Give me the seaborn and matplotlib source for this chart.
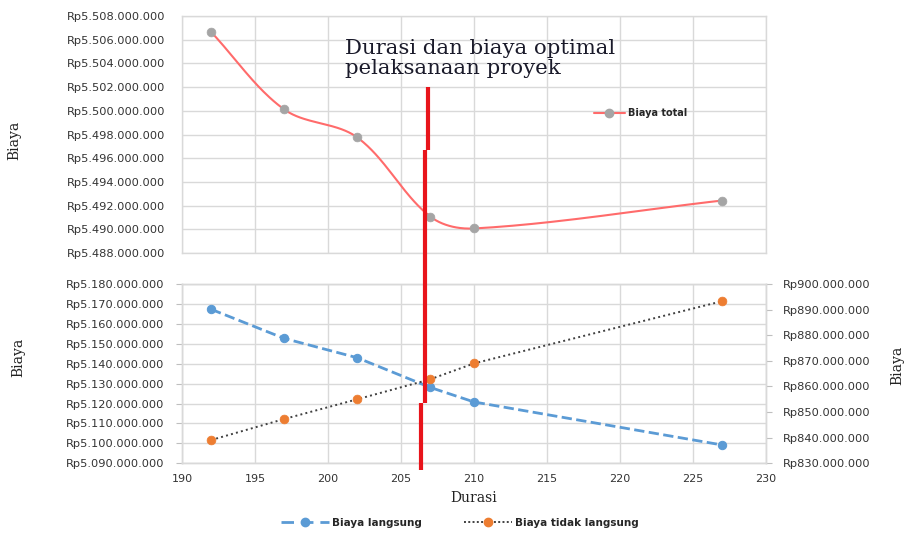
import numpy as np
import pandas as pd
import matplotlib
matplotlib.use("Agg")
import matplotlib.pyplot as plt
from matplotlib.lines import Line2D
from matplotlib.ticker import FuncFormatter, MultipleLocator
import seaborn as sns

# data
durasi = [192, 197, 202, 207, 210, 227]
biaya_total = [5506.65e6, 5500.12e6, 5497.76e6, 5491.08e6, 5490.07e6, 5492.43e6]
biaya_langsung = [5167.3e6, 5152.7e6, 5143.0e6, 5128.1e6, 5120.8e6, 5099.2e6]
biaya_tidak_langsung = [839.1e6, 847.3e6, 855.0e6, 862.8e6, 869.0e6, 893.3e6]

x_ticks = [190, 195, 200, 205, 210, 215, 220, 225, 230]
durasi_optimal = 206.65
judul = "Durasi dan biaya optimal\npelaksanaan proyek"

# colours
merah = "#ff6b6b"
abu = "#a5a5a5"
biru = "#5b9bd5"
oranye = "#ed7d31"
grid_c = "#d9d9d9"
teks = "#333333"

sns.set_theme(style="whitegrid")
plt.rcParams["font.family"] = ["DejaVu Sans"]


def rupiah(v, pos=None):
    return "Rp" + f"{v:,.0f}".replace(",", ".")


def smooth_line(px, py, n=40):
    # excel-like smoothed line (bezier with tangents scaled per segment), in display space
    P = np.column_stack([px, py])
    N = len(P)
    T = np.zeros_like(P)
    for i in range(N):
        if i == 0:
            d = P[1] - P[0]
        elif i == N - 1:
            d = P[-1] - P[-2]
        else:
            d = P[i + 1] - P[i - 1]
        T[i] = d / np.linalg.norm(d)
    t = np.linspace(0, 1, n)[:, None]
    out = []
    for i in range(N - 1):
        seg = np.linalg.norm(P[i + 1] - P[i])
        c1 = P[i] + T[i] * seg / 3
        c2 = P[i + 1] - T[i + 1] * seg / 3
        out.append((1 - t) ** 3 * P[i] + 3 * (1 - t) ** 2 * t * c1
                   + 3 * (1 - t) * t ** 2 * c2 + t ** 3 * P[i + 1])
    return np.vstack(out)


fig = plt.figure(figsize=(9.05, 5.36), dpi=100)
ax_top = fig.add_axes([0.2011, 0.528, 0.6453, 0.442])
ax_bot = fig.add_axes([0.2011, 0.1356, 0.6453, 0.3345])
ax_r = ax_bot.twinx()

# ---- top panel: total cost
ax_top.set_xlim(190, 230)
ax_top.set_ylim(5488e6, 5508e6)
ax_top.xaxis.set_major_locator(MultipleLocator(5))
ax_top.yaxis.set_major_locator(MultipleLocator(2e6))
ax_top.yaxis.set_major_formatter(FuncFormatter(rupiah))

disp = ax_top.transData.transform(np.column_stack([durasi, biaya_total]))
curve = ax_top.transData.inverted().transform(smooth_line(disp[:, 0], disp[:, 1]))
df_curve = pd.DataFrame({"x": curve[:, 0], "y": curve[:, 1]})
sns.lineplot(data=df_curve, x="x", y="y", sort=False, estimator=None, ax=ax_top,
             color=merah, lw=1.5, zorder=3)
sns.scatterplot(x=durasi, y=biaya_total, ax=ax_top, color=abu, edgecolor=abu, s=40, zorder=4)

ax_top.set_xlabel("")
ax_top.set_ylabel("Biaya", family="DejaVu Serif", fontsize=10, color="#222222")
ax_top.yaxis.set_label_coords(-0.276, 0.475)
ax_top.tick_params(axis="x", labelbottom=False, length=0)
ax_top.tick_params(axis="y", length=0, pad=12, labelsize=8.2, labelcolor=teks)

ax_top.legend(handles=[Line2D([], [], color=merah, lw=1.5, marker="o", ms=6,
                              mfc=abu, mec=abu)],
              labels=["Biaya total"], loc="center left", bbox_to_anchor=(0.69, 0.59),
              frameon=False, handlelength=3.2, handletextpad=0.3,
              prop={"size": 7, "weight": "bold"})

# ---- bottom panel: direct (left) and indirect (right) cost
ax_bot.set_xlim(190, 230)
ax_bot.set_xticks(x_ticks)
ax_bot.set_ylim(5090e6, 5180e6)
ax_bot.yaxis.set_major_locator(MultipleLocator(10e6))
ax_bot.yaxis.set_major_formatter(FuncFormatter(rupiah))
ax_r.set_ylim(830e6, 900e6)
ax_r.yaxis.set_major_locator(MultipleLocator(10e6))
ax_r.yaxis.set_major_formatter(FuncFormatter(rupiah))

sns.lineplot(x=durasi, y=biaya_langsung, ax=ax_bot, color=biru, lw=2, linestyle="--",
             dashes=(4.5, 2.5), marker="o", markersize=6, markeredgecolor=biru, zorder=3)
sns.lineplot(x=durasi, y=biaya_tidak_langsung, ax=ax_r, color="#404040", lw=1.4,
             linestyle=":", dashes=(1, 1.2), zorder=3)
sns.scatterplot(x=durasi, y=biaya_tidak_langsung, ax=ax_r, color=oranye, edgecolor=oranye,
                s=40, zorder=4)

ax_bot.set_xlabel("Durasi", family="DejaVu Serif", fontsize=10, color="#222222", labelpad=5)
ax_bot.set_ylabel("Biaya", family="DejaVu Serif", fontsize=10, color="#222222")
ax_bot.yaxis.set_label_coords(-0.269, 0.59)
ax_r.set_ylabel("Biaya", family="DejaVu Serif", fontsize=10, color="#222222")
ax_r.yaxis.set_label_coords(1.212, 0.544)

ax_bot.tick_params(axis="x", length=0, pad=8, labelsize=8, labelcolor=teks)
ax_bot.tick_params(axis="y", left=True, length=4, width=0.8, color="#bfbfbf", pad=9,
                   labelsize=8.2, labelcolor=teks)
ax_r.tick_params(axis="y", right=True, length=4, width=0.8, color="#bfbfbf", pad=8,
                 labelsize=8.2, labelcolor=teks)

ax_top.grid(True, color=grid_c, lw=1)
ax_bot.grid(True, color=grid_c, lw=1)
ax_r.grid(False)
for ax in (ax_top, ax_bot, ax_r):
    for s in ax.spines.values():
        s.set_color(grid_c)
        s.set_linewidth(1)

# optimum marker: hand drawn red line through both panels
tr = ax_r.get_xaxis_transform()
ax_r.plot([durasi_optimal + 0.2] * 2, [2.10, 1.75], color="#e8141b", lw=3, transform=tr,
          clip_on=False, zorder=10, solid_capstyle="butt")
ax_r.plot([durasi_optimal] * 2, [1.75, 0.337], color="#e8141b", lw=3, transform=tr,
          clip_on=False, zorder=10, solid_capstyle="butt")
ax_r.plot([durasi_optimal - 0.25] * 2, [0.337, -0.037], color="#e8141b", lw=3, transform=tr,
          clip_on=False, zorder=10, solid_capstyle="butt")

fig.text(0.381, 0.928, judul, family="DejaVu Serif", fontsize=15.3, color="#1a1a2a",
         va="top", ha="left", linespacing=1.1)

handles = [
    Line2D([], [], color=biru, lw=2, linestyle="--", dashes=(4.5, 2.5), marker="o", ms=6,
           mec=biru),
    Line2D([], [], color="#404040", lw=1.4, linestyle=":", dashes=(1, 1.2), marker="o", ms=6,
           mfc=oranye, mec=oranye),
]
fig.legend(handles=handles, labels=["Biaya langsung", "Biaya tidak langsung"],
           loc="center", bbox_to_anchor=(0.508, 1 - 523 / 536), ncol=2, frameon=False,
           handlelength=4.6, handletextpad=0.3, columnspacing=4,
           prop={"size": 7.5, "weight": "bold"})

fig.savefig("out.png", dpi=100, facecolor="white")
